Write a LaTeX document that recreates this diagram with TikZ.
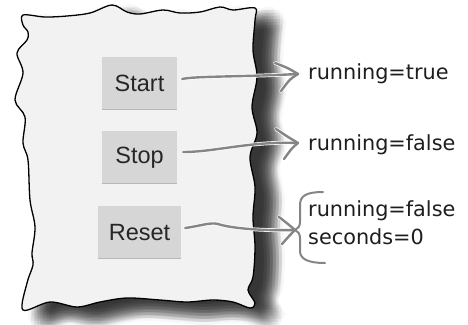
\documentclass[tikz,border=0pt]{standalone}
\usepackage{fontspec}
\setmainfont{Liberation Sans}
\newfontfamily\handfont{DejaVu Sans}
\usetikzlibrary{calc}
\definecolor{papergray}{HTML}{F2F2F2}
\definecolor{btngray}{HTML}{D6D6D6}
\definecolor{btnedge}{HTML}{B8B8B8}
\definecolor{arrgray}{HTML}{858585}
\definecolor{inkdark}{HTML}{1E1E1E}
\begin{document}
\begin{tikzpicture}[x=1pt,y=-1pt,
  btn/.style={fill=btngray, minimum width=75pt, minimum height=53pt, inner sep=0pt,
    font=\fontsize{23.5}{27}\selectfont, text=black!85},
  lbl/.style={inner sep=0pt, font=\handfont\fontsize{20.8}{24}\selectfont, text=inkdark},
  arr/.style={draw=arrgray, line width=2.4pt, line cap=round, line join=round},
  halo/.style={draw=white, line width=3.8pt, line cap=round, line join=round},
  brace/.style={draw=arrgray, line width=2pt, line cap=round, line join=round}]
\useasboundingbox (0,0) rectangle (468,324);
\def\paperpath{plot[smooth cycle, tension=0.55] coordinates {
 (23,15) (45,17) (67,16) (90,13) (112,5) (127,12) (140,14) (163,10) (180,13) (200,12) (220,7) (233,10) (255,8)
 (255,20) (253,50) (257,77) (252,107) (257,133) (250,157) (255,187) (253,217) (255,247) (253,277) (248,290) (255,303) (250,308)
 (233,302) (213,300) (187,302) (160,300) (127,298) (100,302) (77,307) (50,302) (23,310)
 (27,283) (33,265) (32,253) (35,227) (30,200) (28,160) (23,143) (25,117) (15,100) (23,73) (17,53) (27,40) (28,32) (23,25)}}
% blurred shadow: many shifted translucent copies
\foreach \dx in {-12,-9,...,12} {
  \foreach \dy in {-12,-9,...,12} {
    \pgfmathtruncatemacro\inside{(\dx*\dx+\dy*\dy)<=150 ? 1 : 0}
    \ifnum\inside=1
      \fill[black, opacity=0.031, shift={(\dx+18,\dy+11)}] \paperpath;
    \fi
  }
}
% paper
\fill[papergray] \paperpath;
\draw[black, line width=1.3pt, line join=round] \paperpath;
% buttons
\node[btn] (start) at (139.5,83) {Start};
\node[btn] (stop) at (139.5,157.5) {Stop};
\node[btn, minimum width=83pt] (reset) at (139.5,232.5) {Reset};
\foreach \b in {start,stop,reset} {
  \draw[btnedge, line width=1.2pt] ($(\b.south west)+(0,-0.6)$) -- ($(\b.south east)+(0,-0.6)$);
}
% labels
\node[lbl, anchor=base west] (t1) at (308,79) {running=true};
\node[lbl, anchor=base west] (t2) at (308,150.5) {running=false};
\node[lbl, anchor=base west] (t3) at (308,216) {running=false};
\node[lbl, anchor=base west] (t4) at (308,244) {seconds=0};
% tips
\coordinate (tip1) at (298,74);
\coordinate (tip2) at (298,143);
\coordinate (tip3) at (295,230);
% arrows
\foreach \s in {halo,arr} {
  \draw[\s] ($(start.east)+(5,-4)$) .. controls (195,76) and (240,77) .. (tip1);
  \draw[\s] ($(tip1)+(-23,-11)$) .. controls ($(tip1)+(-10,-6)$) .. (tip1) .. controls ($(tip1)+(-8,5)$) .. ($(tip1)+(-17,17)$);
  \draw[\s] ($(stop.east)+(6,-5.5)$) .. controls (215,152) and (250,141) .. (tip2);
  \draw[\s] ($(tip2)+(-22,-14)$) .. controls ($(tip2)+(-10,-6)$) .. (tip2) .. controls ($(tip2)+(-6,5)$) .. ($(tip2)+(-14,16)$);
  \draw[\s] ($(reset.east)+(4,-4.5)$) .. controls (200,226) and (210,222) .. (218,224) .. controls (230,228) and (260,231) .. (tip3);
  \draw[\s] ($(tip3)+(-16,-13)$) .. controls ($(tip3)+(-7,-6)$) .. (tip3) .. controls ($(tip3)+(-5,5)$) .. ($(tip3)+(-13,14)$);
}
% brace
\draw[brace] (323,192) .. controls (306,192) and (300,196) .. (300,205) -- (300,222)
  .. controls (300,226) and (298,229) .. (tip3) .. controls (298,231) and (300,234) .. (300,238)
  -- (300,251) .. controls (300,259) and (308,263) .. (325,263);
\end{tikzpicture}
\end{document}
